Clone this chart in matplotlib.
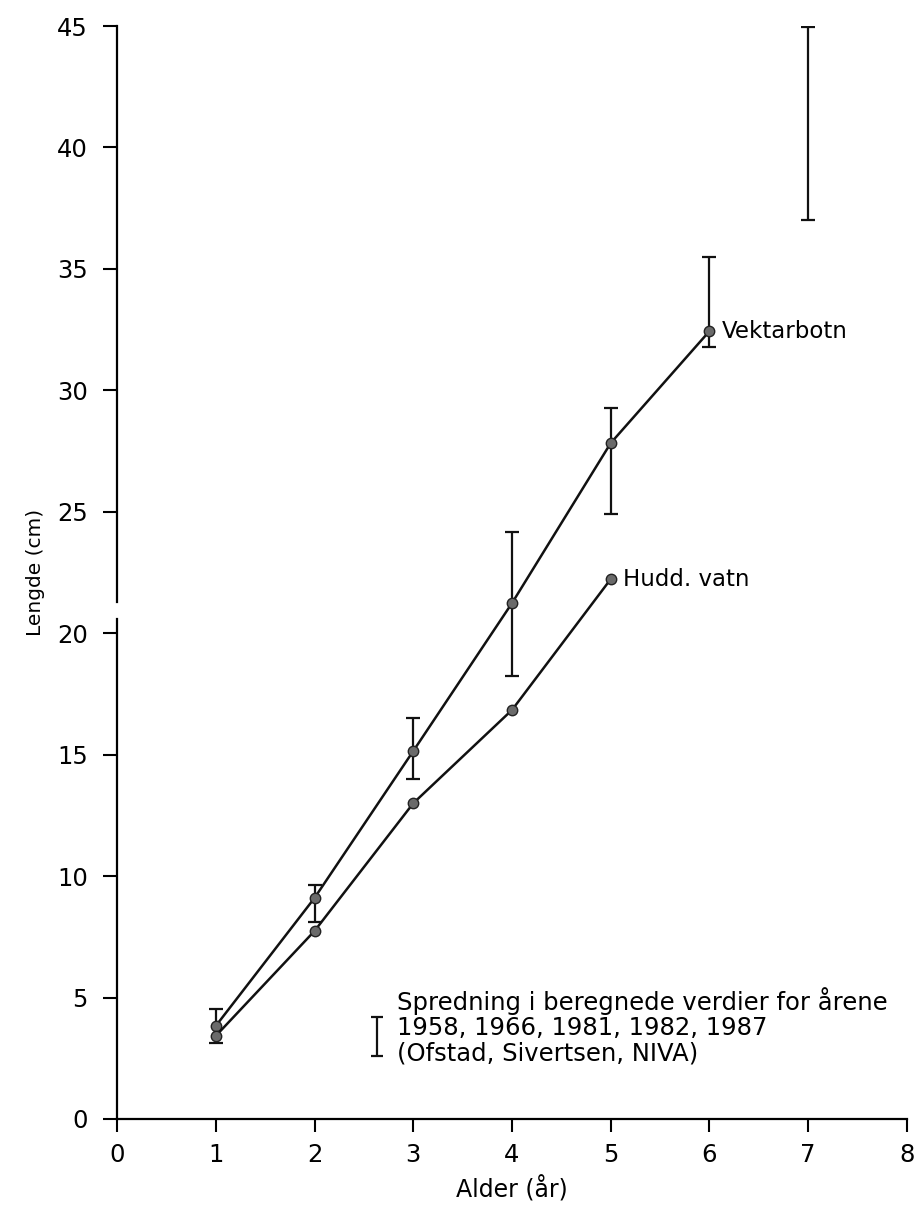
import matplotlib.pyplot as plt
import numpy as np

# Data
alder = [1, 2, 3, 4, 5, 6]
vektarbotn = [3.83, 9.1, 15.15, 21.24, 27.83, 32.44]
hudd_alder = [1, 2, 3, 4, 5]
hudd_vatn = [3.42, 7.74, 13.0, 16.84, 22.23]

# Spread of calculated values (min / max)
spr_x = [1, 2, 3, 4, 5, 6, 7]
spr_lo = [3.13, 8.11, 14.0, 18.24, 24.9, 31.78, 37.0]
spr_hi = [4.53, 9.63, 16.5, 24.17, 29.27, 35.49, 44.96]

x_ticks = [0, 1, 2, 3, 4, 5, 6, 7, 8]
y_ticks = [0, 5, 10, 15, 20, 25, 30, 35, 40, 45]

plt.rcParams['font.family'] = ['DejaVu Sans']

fig = plt.figure(figsize=(9.18, 12.11), dpi=100)
ax = fig.add_axes([0.1275, 0.076, 0.8605, 0.9025])

# Error bars (spread)
lo = np.array(spr_lo)
hi = np.array(spr_hi)
ax.errorbar(spr_x, lo, yerr=[np.zeros_like(lo), hi - lo], fmt='none',
            ecolor='#111111', elinewidth=1.6, capsize=5, capthick=1.6, zorder=2)

# Growth curves
marker_kw = dict(marker='o', markersize=7.5, markerfacecolor='#6a6a6a',
                 markeredgecolor='#222222', markeredgewidth=1.0)
ax.plot(alder, vektarbotn, color='#111111', lw=1.8, zorder=3, **marker_kw)
ax.plot(hudd_alder, hudd_vatn, color='#111111', lw=1.8, zorder=3, **marker_kw)

ax.text(6.12, vektarbotn[-1], 'Vektarbotn', fontsize=16.5, va='center', ha='left')
ax.text(5.12, hudd_vatn[-1], 'Hudd. vatn', fontsize=16.5, va='center', ha='left')

# Legend for the spread bar
ax.errorbar([2.63], [2.6], yerr=[[0], [1.6]], fmt='none', ecolor='#111111',
            elinewidth=1.6, capsize=4, capthick=1.6)
leg_kw = dict(fontsize=17.5, va='center', ha='left')
ax.text(2.84, 4.85, 'Spredning i beregnede verdier for årene', **leg_kw)
ax.text(2.84, 3.75, '1958, 1966, 1981, 1982, 1987', **leg_kw)
ax.text(2.84, 2.68, '(Ofstad, Sivertsen, NIVA)', **leg_kw)

ax.set_xlim(0, 8)
ax.set_ylim(0, 45)
ax.set_xticks(x_ticks)
ax.set_yticks(y_ticks)
ax.tick_params(axis='y', direction='out', length=10, width=1.5, pad=11,
               labelsize=17.5)
ax.tick_params(axis='x', direction='out', length=9, width=1.5, pad=8,
               labelsize=17.5)

ax.spines['top'].set_visible(False)
ax.spines['right'].set_visible(False)
ax.spines['left'].set_linewidth(1.6)
ax.spines['bottom'].set_linewidth(1.6)
# broken y axis between ~20.6 and ~21.3
ax.spines['left'].set_bounds(0, 20.6)
ax.plot([0, 0], [21.3, 45], color='black', lw=1.6, clip_on=False, zorder=5)

ax.set_xlabel('Alder (år)', fontsize=17, labelpad=7)
ax.set_ylabel('Lengde (cm)', fontsize=14.5, labelpad=9)

fig.savefig('out.png', dpi=100)
